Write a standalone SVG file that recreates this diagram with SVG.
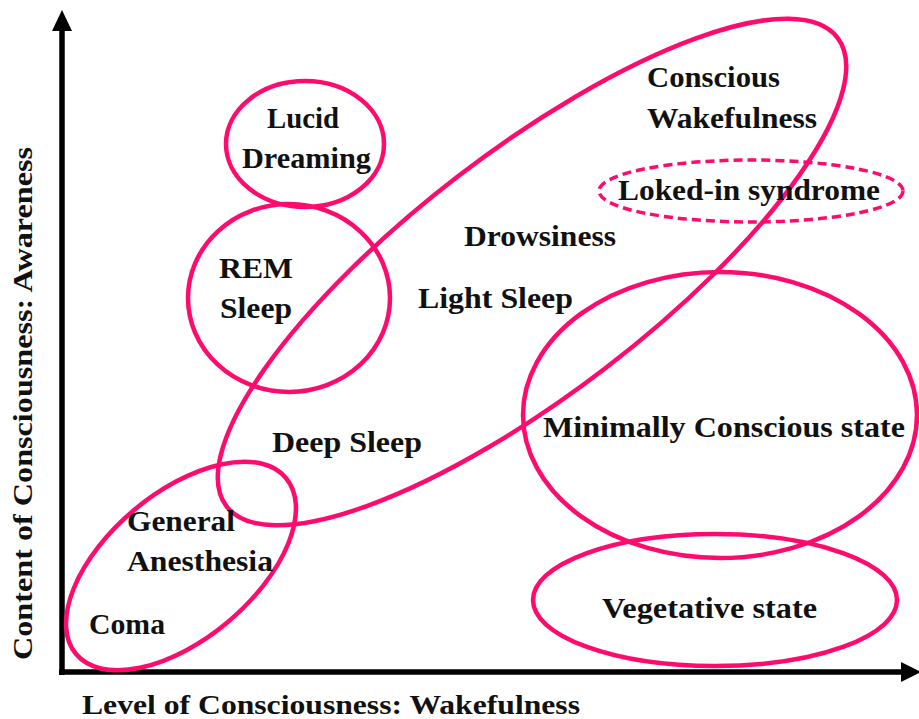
<svg xmlns="http://www.w3.org/2000/svg" width="919" height="719" viewBox="0 0 919 719">
  <style>
    .ring { fill: none; stroke: #FF0B6E; stroke-width: 4.5; }
    .dash { stroke-dasharray: 9 5; stroke-width: 3.5; }
    .lbl { font-family: "Liberation Serif", "Times New Roman", serif; font-weight: bold; font-size: 30px; fill: #111; }
    .axis { font-family: "Liberation Serif", "Times New Roman", serif; font-weight: bold; font-size: 28px; fill: #111; }
    .ax { stroke: #000; stroke-width: 5.5; fill: none; }
  </style>
  <rect width="919" height="719" fill="#fff"/>

  <!-- axes -->
  <g id="axes">
    <path class="ax" d="M62,675 V28 M59,672 H904"/>
    <polygon points="62,10 52,31 72,31" fill="#000"/>
    <polygon points="921,672 901,662 901,682" fill="#000"/>
    <text class="axis" x="82" y="714" textLength="498" lengthAdjust="spacingAndGlyphs">Level of Consciousness: Wakefulness</text>
    <text class="axis" transform="translate(32,660) rotate(-90)" x="0" y="0" textLength="513" lengthAdjust="spacingAndGlyphs">Content  of Consciousness: Awareness</text>
  </g>

  <!-- states -->
  <g id="sleep-wake">
    <ellipse class="ring" cx="0" cy="0" rx="385" ry="121" transform="translate(532,272) rotate(-37.5)"/>
    <text class="lbl" x="647" y="87" textLength="133" lengthAdjust="spacingAndGlyphs">Conscious</text>
    <text class="lbl" x="647" y="128" textLength="170" lengthAdjust="spacingAndGlyphs">Wakefulness</text>
    <text class="lbl" x="464" y="246" textLength="152" lengthAdjust="spacingAndGlyphs">Drowsiness</text>
    <text class="lbl" x="418" y="308" textLength="155" lengthAdjust="spacingAndGlyphs">Light Sleep</text>
    <text class="lbl" x="272" y="452" textLength="150" lengthAdjust="spacingAndGlyphs">Deep Sleep</text>
  </g>

  <g id="lucid-dreaming">
    <ellipse class="ring" cx="305" cy="144" rx="79" ry="63"/>
    <text class="lbl" x="267" y="128" textLength="72" lengthAdjust="spacingAndGlyphs">Lucid</text>
    <text class="lbl" x="242" y="168" textLength="129" lengthAdjust="spacingAndGlyphs">Dreaming</text>
  </g>

  <g id="rem-sleep">
    <ellipse class="ring" cx="289" cy="298" rx="101" ry="94"/>
    <text class="lbl" x="219" y="278" textLength="74" lengthAdjust="spacingAndGlyphs">REM</text>
    <text class="lbl" x="220" y="318" textLength="72" lengthAdjust="spacingAndGlyphs">Sleep</text>
  </g>

  <g id="locked-in">
    <ellipse class="ring dash" cx="751" cy="191" rx="152" ry="31"/>
    <text class="lbl" x="618" y="200" textLength="262" lengthAdjust="spacingAndGlyphs">Loked-in syndrome</text>
  </g>

  <g id="minimally-conscious">
    <ellipse class="ring" cx="720" cy="415" rx="197" ry="143"/>
    <text class="lbl" x="543" y="437" textLength="362" lengthAdjust="spacingAndGlyphs">Minimally  Conscious state</text>
  </g>

  <g id="vegetative">
    <ellipse class="ring" cx="715" cy="600" rx="182" ry="66"/>
    <text class="lbl" x="602" y="618" textLength="215" lengthAdjust="spacingAndGlyphs">Vegetative state</text>
  </g>

  <g id="anesthesia-coma">
    <ellipse class="ring" cx="0" cy="0" rx="137" ry="73" transform="translate(181,566) rotate(-40)"/>
    <text class="lbl" x="127" y="531" textLength="108" lengthAdjust="spacingAndGlyphs">General</text>
    <text class="lbl" x="127" y="571" textLength="146" lengthAdjust="spacingAndGlyphs">Anesthesia</text>
    <text class="lbl" x="89" y="634" textLength="76" lengthAdjust="spacingAndGlyphs">Coma</text>
  </g>
</svg>
